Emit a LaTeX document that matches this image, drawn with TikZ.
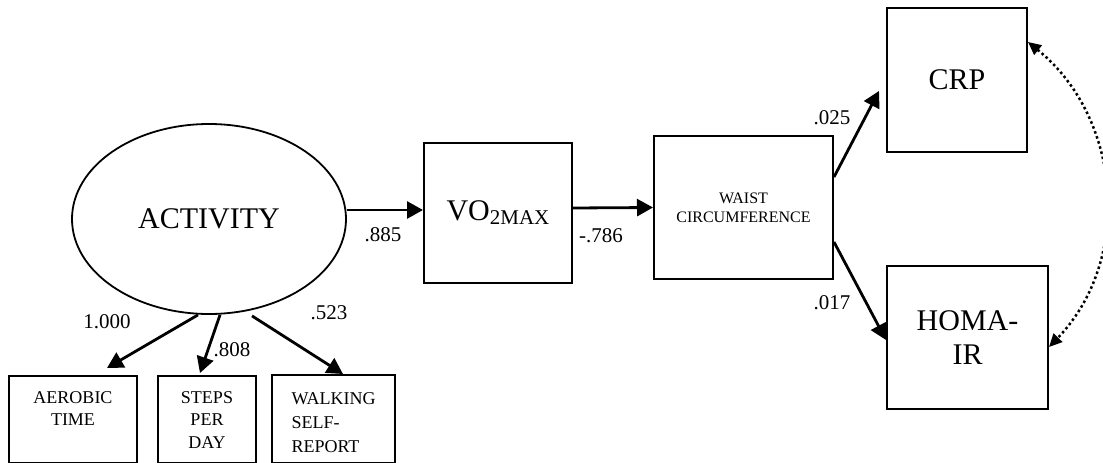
\documentclass[tikz,border=0pt]{standalone}
\usepackage{fontspec}
\setmainfont{Liberation Serif}
\usetikzlibrary{arrows.meta,shapes.geometric}

\begin{document}
\begin{tikzpicture}[x=1pt, y=-1pt, >={Triangle[length=16pt,width=17pt]},
    box/.style={draw, line width=2pt, inner sep=0pt},
    bigtext/.style={font=\fontsize{30}{34}\selectfont},
    smallbox/.style={draw, line width=2pt, anchor=north, inner sep=0pt,
      font=\fontsize{18}{22.5}\selectfont},
    link/.style={->, line width=2.8pt},
    num/.style={inner sep=0pt, font=\fontsize{21}{25}\selectfont}]
    \useasboundingbox (0,0) rectangle (1103,463);

    % Latent
    \node[draw, ellipse, line width=1.8pt, inner sep=0pt, minimum width=274pt,
      minimum height=190pt, bigtext] (act) at (209,219) {ACTIVITY};

    % Indikatorer
    \node[smallbox, minimum width=128pt, align=center, text height=49.5pt, text depth=37.5pt]
      (aer) at (73,375) {AEROBIC\\TIME};
    \node[smallbox, minimum width=98pt, align=center, text height=72pt, text depth=15pt]
      (steps) at (207,375) {STEPS\\PER\\DAY};
    \node[smallbox, minimum width=123pt, align=left, text height=77pt, text depth=11pt,
      font=\fontsize{18}{24}\selectfont] (walk) at (333.5,374) {WALKING\\SELF-\\REPORT};

    % Boxes
    \node[box, minimum width=148pt, minimum height=140pt, bigtext] (vo2) at (498,213)
      {VO\raisebox{-4pt}{\fontsize{21}{25}\selectfont 2MAX}};
    \node[box, minimum width=179pt, minimum height=143pt, align=center,
      font=\fontsize{16}{19}\selectfont] (waist) at (743.5,207.5) {WAIST\\CIRCUMFERENCE};
    \node[box, minimum width=140pt, minimum height=144pt, bigtext] (crp) at (957,80) {CRP};
    \node[box, minimum width=161pt, minimum height=143pt, align=center, bigtext]
      (homa) at (967.5,337.5) {HOMA-\\IR};

    % Stier
    \draw[link] ([xshift=-11pt]act.south) -- ([xshift=34pt,yshift=7pt]aer.north);
    \draw[link] ([xshift=11pt]act.south) -- ([xshift=-7pt,yshift=2pt]steps.north);
    \draw[link] ([xshift=43pt,yshift=-1pt]act.south) -- ([xshift=9.5pt]walk.north);
    \draw[link] ([yshift=9pt]act.east) -- ([yshift=3pt]vo2.west);
    \draw[link] ([yshift=5pt]vo2.east) -- (waist.west);
    \draw[link] ([yshift=30.5pt]waist.east) -- ([xshift=-7pt,yshift=-11pt]crp.west);
    \draw[link] ([yshift=-34.5pt]waist.east) -- ([yshift=-2.5pt]homa.west);

    % Kovarians
    \draw[<->, >={Triangle[length=13pt,width=12pt]}, line width=2.5pt,
      dash pattern=on 2.5pt off 2.8pt]
      ([yshift=38pt]crp.east) .. controls ([xshift=94pt,yshift=-38pt]crp.east)
      and ([xshift=84pt,yshift=77.5pt]homa.east) .. ([yshift=-9.5pt]homa.east);

    % Koeffisienter
    \node[num] (c1000) at (107,322) {1.000};
    \node[num] (c808) at (232,350) {.808};
    \node[num] (c523) at (329,313) {.523};
    \node[num] (c885) at (383,235) {.885};
    \node[num] (c786) at (601,236) {-.786};
    \node[num] (c025) at (832,118) {.025};
    \node[num] (c017) at (832,303) {.017};
  \end{tikzpicture}
\end{document}
